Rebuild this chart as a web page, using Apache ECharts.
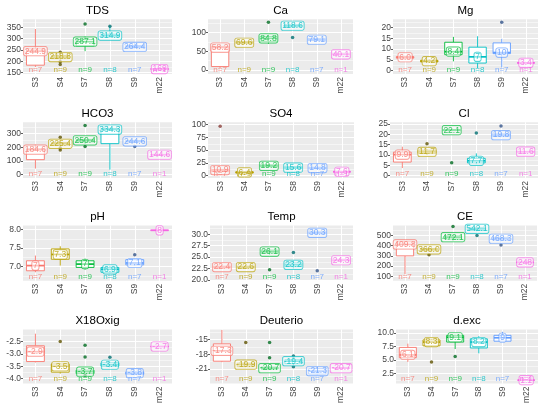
<!DOCTYPE html>
<html lang="en">
<head>
<meta charset="UTF-8">
<script src="https://cdn.jsdelivr.net/npm/echarts@6/dist/echarts.min.js"></script>
<style>
  html, body { margin: 0; padding: 0; background: #fff; }
  #chart { width: 550px; height: 409px; }
</style>
</head>
<body>
<div id="chart"></div>
<script>
var cats = ['S3', 'S4', 'S7', 'S8', 'S9', 'm22'];
var counts = [7, 9, 9, 8, 7, 1];
var colors = ['#F8766D', '#B79F00', '#00BA38', '#00BFC4', '#619CFF', '#F564E3'];
var ptColors = ['#8a3f3a', '#5f5200', '#006b20', '#006e70', '#33548a', '#8a3580'];
var titles = ['TDS', 'Ca', 'Mg', 'HCO3', 'SO4', 'Cl', 'pH', 'Temp', 'CE', 'X18Oxig', 'Deuterio', 'd.exc'];

// boxes: [min, q1, median, q3, max] per station; points: [station, value]
var tdsBox = [[175, 183, 245, 255, 343], [205, 212, 219, 226, 232], [245, 268, 287, 297, 310], [305, 308, 314, 320, 355], [258, 260, 264, 270, 280], [166, 166, 166, 166, 166]];
var tdsPts = [[1, 240], [1, 198], [1, 186], [2, 365], [3, 355]];
var tdsLab = ['244.9', '218.8', '287.1', '314.9', '264.4', '169'];

var caBox = [[5, 9, 60, 63, 65], [70, 72, 73, 76, 78], [70, 77, 84.8, 90, 95], [114, 116, 118.6, 121, 123], [77, 79, 81, 84, 86], [42, 42, 42, 42, 42]];
var caPts = [[2, 128], [3, 87]];
var caLab = ['58.2', '69.6', '84.8', '118.6', '79.1', '40.1'];

var mgBox = [[5.4, 5.8, 6.2, 6.5, 6.9], [3.6, 4.0, 4.4, 4.8, 5.3], [4.3, 7.4, 8.8, 13.2, 15.7], [1.1, 3.5, 6.4, 10.9, 16], [1.5, 7.9, 8.4, 12.9, 14.8], [3.6, 3.6, 3.6, 3.6, 3.6]];
var mgPts = [[4, 22.5]];
var mgLab = ['6.0', '4.2', '8.4', '7', '10', '3.4'];

var hcoBox = [[45, 110, 183, 188, 220], [205, 215, 226, 235, 245], [225, 240, 251, 258, 268], [37, 227, 330, 338, 338], [235, 240, 244, 250, 255], [146, 146, 146, 146, 146]];
var hcoPts = [[1, 273], [1, 195], [1, 180], [2, 359], [2, 207], [4, 207]];
var hcoLab = ['184.6', '225.4', '250.4', '334.3', '244.6', '144.6'];

var so4Box = [[6, 8, 10.9, 12, 14], [4, 5, 6.4, 7.5, 9], [16, 17.5, 19.2, 21, 23], [12, 14, 15.6, 17.5, 19], [12, 13.5, 14.8, 16.5, 18], [7.6, 7.6, 7.6, 7.6, 7.6]];
var so4Pts = [[0, 97]];
var so4Lab = ['10.9', '6.4', '19.2', '15.6', '14.8', '7.6'];

var clBox = [[3.7, 6.6, 10.2, 11.4, 14], [10, 10.8, 11.5, 12.3, 13], [21.5, 21.8, 22, 22.3, 22.5], [5.5, 6.2, 7.2, 8.4, 10.8], [18.5, 19, 19.6, 20.2, 21], [11.6, 11.6, 11.6, 11.6, 11.6]];
var clPts = [[1, 15.5], [2, 6.3], [3, 20.6], [4, 24]];
var clLab = ['9.9', '11.7', '22.1', '7.7', '19.8', '11.6'];

var phBox = [[6.85, 6.89, 7.03, 7.16, 7.3], [7.03, 7.2, 7.33, 7.48, 7.55], [6.92, 6.98, 7.07, 7.16, 7.22], [6.82, 6.85, 6.93, 6.98, 7.02], [7.02, 7.05, 7.1, 7.19, 7.22], [7.98, 7.98, 7.98, 7.98, 7.98]];
var phPts = [[4, 7.32]];
var phLab = ['7', '7.3', '7', '6.9', '7.1', '8'];

var tmpBox = [[22.4, 22.6, 22.8, 23.0, 23.2], [22.4, 22.6, 22.8, 23.0, 23.2], [25.5, 25.9, 26.2, 26.5, 26.8], [22.5, 22.9, 23.3, 23.7, 24.3], [29.8, 30.1, 30.3, 30.5, 30.8], [24.3, 24.3, 24.3, 24.3, 24.3]];
var tmpPts = [[2, 22.2], [3, 26], [4, 22]];
var tmpLab = ['22.4', '22.6', '26.1', '23.2', '30.3', '24.3'];

var ceBox = [[120, 300, 412, 438, 440], [340, 350, 364, 372, 380], [450, 465, 483, 495, 505], [540, 550, 565, 575, 585], [440, 455, 468, 478, 485], [236, 236, 236, 236, 236]];
var cePts = [[1, 310], [2, 588], [3, 500], [4, 407]];
var ceLab = ['409.8', '366.0', '472.1', '542.1', '468.3', '248'];

var xoBox = [[-3.35, -3.31, -2.91, -2.67, -2.18], [-3.8, -3.74, -3.5, -3.41, -3.38], [-3.88, -3.8, -3.72, -3.66, -3.6], [-3.55, -3.5, -3.44, -3.36, -3.3], [-3.86, -3.83, -3.78, -3.73, -3.7], [-2.7, -2.7, -2.7, -2.7, -2.7]];
var xoPts = [[1, -2.5], [2, -2.65], [2, -3.13], [2, -3.88], [3, -3.14]];
var xoLab = ['-2.9', '-3.5', '-3.7', '-3.4', '-3.8', '-2.7'];

var deBox = [[-19.6, -19.4, -17.3, -15.9, -13.1], [-20.6, -20.5, -20.1, -19.8, -19.6], [-21.2, -21.0, -20.8, -20.6, -20.4], [-20.3, -19.9, -19.4, -19.1, -18.7], [-22.3, -22.0, -21.4, -20.9, -20.5], [-20.8, -20.8, -20.8, -20.8, -20.8]];
var dePts = [[1, -15.6], [2, -15.6], [2, -18.7], [3, -18.36], [3, -20.5]];
var deLab = ['-17.3', '-19.9', '-20.7', '-19.4', '-21.3', '-20.7'];

var dxBox = [[4.6, 5.4, 5.9, 7.3, 8.0], [7.4, 7.6, 8.3, 8.7, 8.9], [7.0, 8.3, 9.2, 9.55, 9.7], [6.2, 7.2, 8.3, 8.9, 9.4], [8.46, 8.46, 9.1, 9.55, 10.2], [1.2, 1.2, 1.2, 1.2, 1.2]];
var dxPts = [[1, 4.6], [2, 5.6]];
var dxLab = ['6.1', '8.3', '9.1', '8.2', '9', '1.1'];

var boxes = [tdsBox, caBox, mgBox, hcoBox, so4Box, clBox, phBox, tmpBox, ceBox, xoBox, deBox, dxBox];
var points = [tdsPts, caPts, mgPts, hcoPts, so4Pts, clPts, phPts, tmpPts, cePts, xoPts, dePts, dxPts];
var labels = [tdsLab, caLab, mgLab, hcoLab, so4Lab, clLab, phLab, tmpLab, ceLab, xoLab, deLab, dxLab];

// y axes
var yMin = [144, -11, -1.6, -24, -4.7, -1.1, 6.62, 19.8, 55, -4.2, -23.9, 0.58];
var yMax = [386, 136, 23.9, 383, 104.7, 25.8, 8.11, 31.9, 598, -2.01, -13.0, 10.64];
var yTicks = [[150, 200, 250, 300, 350], [0, 50, 100], [0, 5, 10, 15, 20], [0, 100, 200, 300], [0, 25, 50, 75, 100],
  [0, 5, 10, 15, 20, 25], [7, 7.5, 8], [20, 22.5, 25, 27.5, 30], [100, 200, 300, 400, 500], [-4, -3.5, -3, -2.5], [-21, -18, -15], [2.5, 5, 7.5, 10]];
var yDec = [0, 0, 0, 0, 0, 0, 1, 1, 0, 1, 0, 1];

// layout (px)
var gridLeft = [23, 208, 393, 23, 208, 390, 23, 210, 393, 23, 210, 396];
var gridRight = [172, 353, 538, 172, 354, 538, 172, 353, 537, 172, 353, 538];
var rowTop = [19.3, 122.3, 225.5, 329.5];
var rowH = [54.7, 55.7, 55.3, 54];

var font = 'Liberation Sans, Arial, sans-serif';

function renderBox(params, api) {
  var i = api.value(0);
  var x = api.coord([i, api.value(3)])[0];
  var bw = api.size([1, 0])[0] * 0.72;
  var y = [1, 2, 3, 4, 5].map(function (k) { return api.coord([i, api.value(k)])[1]; });
  var col = colors[i];
  return {
    type: 'group',
    children: [
      { type: 'line', shape: { x1: x, y1: y[0], x2: x, y2: y[1] }, style: { stroke: col, lineWidth: 0.9 } },
      { type: 'line', shape: { x1: x, y1: y[3], x2: x, y2: y[4] }, style: { stroke: col, lineWidth: 0.9 } },
      { type: 'rect', shape: { x: x - bw / 2, y: y[3], width: bw, height: y[1] - y[3] }, style: { fill: '#fff', stroke: col, lineWidth: 0.9 } },
      { type: 'line', shape: { x1: x - bw / 2, y1: y[2], x2: x + bw / 2, y2: y[2] }, style: { stroke: col, lineWidth: 1.7 } }
    ]
  };
}

var option = {
  backgroundColor: '#fff',
  animation: false,
  textStyle: { fontFamily: font },
  graphic: [],
  grid: [],
  xAxis: [],
  yAxis: [],
  series: []
};

titles.forEach(function (t, p) {
  var row = Math.floor(p / 3);
  var l = gridLeft[p], w = gridRight[p] - l, top = rowTop[row], h = rowH[row];
  var ticks = yTicks[p];
  var step = ticks[1] - ticks[0];
  var minors = [];
  for (var k = -1; k < ticks.length; k++) {
    var v = ticks[0] + (k + 0.5) * step;
    if (v > yMin[p] && v < yMax[p]) minors.push(v);
  }
  var dec = yDec[p];

  option.grid.push({ left: l, top: top, width: w, height: h, show: true, backgroundColor: '#EBEBEB', borderWidth: 0 });
  option.graphic.push({
    type: 'text', x: l + w / 2, y: top - 8.5,
    style: { text: t, fontSize: 11.5, fontFamily: font, fill: '#000', align: 'center', verticalAlign: 'middle' }
  });

  option.xAxis.push({
    type: 'category', gridIndex: p, data: cats,
    axisLine: { show: false },
    axisTick: { alignWithLabel: true, length: 2, lineStyle: { color: '#333', width: 0.8 } },
    axisLabel: { rotate: 90, interval: 0, fontSize: 8.5, color: '#444', margin: 3 },
    splitLine: { show: false }
  });
  option.yAxis.push({
    type: 'value', gridIndex: p, min: yMin[p], max: yMax[p],
    axisLine: { show: false },
    axisTick: { show: true, length: 2, customValues: ticks, lineStyle: { color: '#333', width: 0.8 } },
    axisLabel: {
      customValues: ticks, fontSize: 8.5, color: '#444', margin: 2,
      formatter: function (val) { return Number(val).toFixed(dec); }
    },
    splitLine: { show: false }
  });

  // panel grid lines (white, minor thinner)
  var gridLines = [];
  minors.forEach(function (m) { gridLines.push({ yAxis: m, lineStyle: { width: 0.5 } }); });
  ticks.forEach(function (m) { gridLines.push({ yAxis: m, lineStyle: { width: 1 } }); });
  cats.forEach(function (c) { gridLines.push({ xAxis: c, lineStyle: { width: 1 } }); });
  option.series.push({
    type: 'scatter', xAxisIndex: p, yAxisIndex: p, silent: true, data: [],
    markLine: {
      silent: true, animation: false, symbol: ['none', 'none'], z: 1,
      label: { show: false },
      lineStyle: { color: '#fff', type: 'solid', width: 1 },
      data: gridLines
    }
  });

  option.series.push({
    type: 'custom', xAxisIndex: p, yAxisIndex: p, silent: true, z: 2,
    renderItem: renderBox,
    encode: { x: 0, y: [1, 2, 3, 4, 5] },
    data: boxes[p].map(function (b, i) { return [i].concat(b); })
  });
  option.series.push({
    type: 'scatter', xAxisIndex: p, yAxisIndex: p, silent: true, z: 3, symbolSize: 3.5,
    data: points[p].map(function (pt) { return { value: pt, itemStyle: { color: ptColors[pt[0]] } }; })
  });
  option.series.push({
    type: 'scatter', xAxisIndex: p, yAxisIndex: p, silent: true, z: 4, symbolSize: 1, clip: false,
    itemStyle: { color: 'transparent' },
    label: {
      show: true, position: 'inside', fontSize: 8.5, fontFamily: font,
      backgroundColor: 'rgba(255,255,255,0.7)', borderWidth: 0.6, borderRadius: 2, padding: [0, 1, 0, 1]
    },
    data: boxes[p].map(function (b, i) {
      return { value: [i, b[2]], label: { formatter: labels[p][i], color: colors[i], borderColor: colors[i] } };
    })
  });
  option.series.push({
    type: 'scatter', xAxisIndex: p, yAxisIndex: p, silent: true, z: 4, symbolSize: 1, clip: false,
    itemStyle: { color: 'transparent' },
    label: { show: true, position: 'top', distance: 0, fontSize: 8, fontFamily: font },
    data: counts.map(function (n, i) {
      return { value: [i, yMin[p]], label: { formatter: 'n=' + n, color: colors[i] } };
    })
  });
});

var chart = echarts.init(document.getElementById('chart'));
chart.setOption(option);
</script>
</body>
</html>
